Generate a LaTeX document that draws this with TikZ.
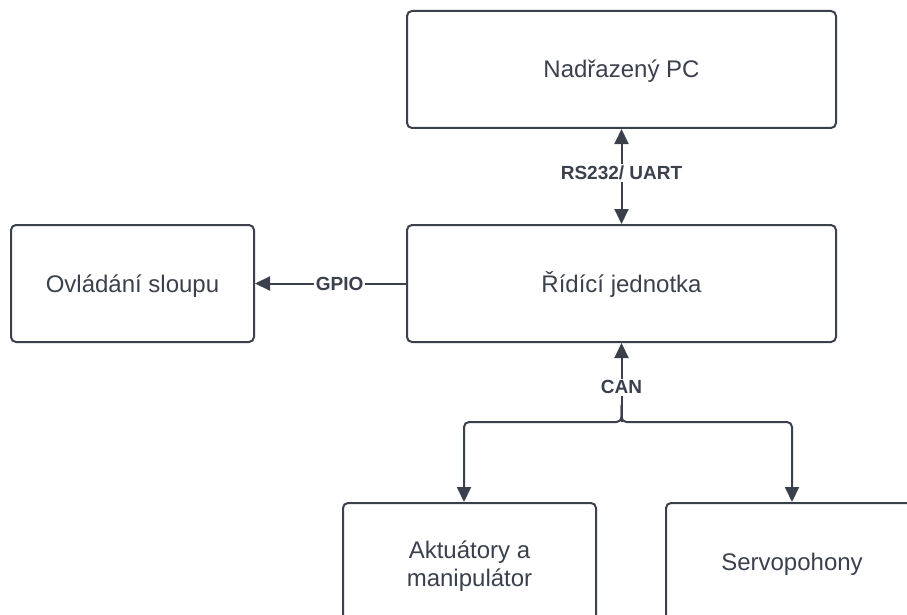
\documentclass[tikz,border=0pt]{standalone}
\usepackage{fontspec}
\setmainfont{Liberation Sans}
\usetikzlibrary{arrows.meta}
\definecolor{ink}{RGB}{58,65,76}
\begin{document}
\begin{tikzpicture}[x=1pt,y=-1pt,
  >={Triangle[length=15pt,width=14pt]},
  block/.style={draw=ink, line width=2pt, rounded corners=5pt, fill=white,
    text=ink, font=\fontsize{24}{28}\selectfont, align=center, inner sep=0pt,
    text height=19pt, text depth=2pt},
  link/.style={draw=ink, line width=2pt},
  tag/.style={fill=white, text=ink, font=\fontsize{19}{22}\selectfont\bfseries, inner sep=2pt}]
\useasboundingbox (0,0) rectangle (907,615);
\clip (0,0) rectangle (907,615);

% blocks
\node[block, minimum width=429pt, minimum height=117pt] (pc)   at (621.5,69.5)  {Nadřazený PC};
\node[block, minimum width=429pt, minimum height=117pt] (main) at (621.5,283.5) {Řídící jednotka};
\node[block, minimum width=243pt, minimum height=117pt] (col)  at (132.5,283.5) {Ovládání sloupu};
\node[block, minimum width=253pt, minimum height=117pt, text height=51pt, text depth=2pt]
  (act)  at (469.5,561.5) {Aktuátory a\\manipulátor};
\node[block, minimum width=252pt, minimum height=117pt] (servo) at (792,561.5) {Servopohony};

% serial link to the PC
\draw[link, <->] (main.north) -- (pc.south) node[tag, pos=0.54] {RS232/ UART};

% GPIO to the column control
\draw[link, ->] (main.west) -- (col.east) node[tag, pos=0.44] {GPIO};

% CAN bus
\coordinate (bus) at (621.5,422);
\coordinate (tap) at (621.5,405);
\coordinate (dropL) at (464,503);
\draw[link, ->] (bus) -- (main.south) node[tag, pos=0.44] {CAN};
\draw[link, ->, rounded corners=5pt] (tap) -- (bus) -| (act.north -| dropL);
\draw[link, ->, rounded corners=5pt] (tap) -- (bus) -| (servo.north);
\end{tikzpicture}
\end{document}
